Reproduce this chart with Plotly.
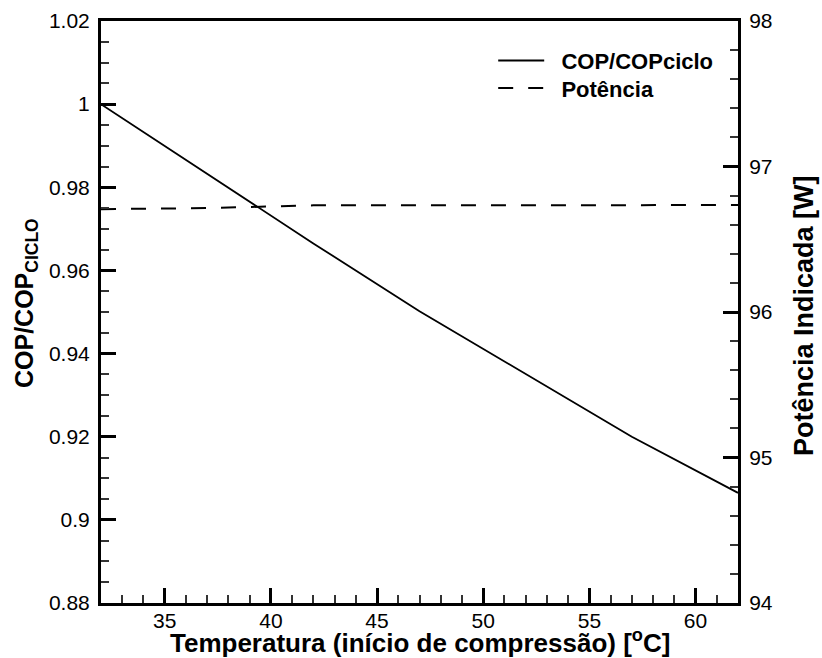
import plotly.graph_objects as go

# ---- data ----
temperatura = [32, 37, 42, 47, 52, 57, 62]
cop_ratio = [1.0000, 0.9832, 0.9665, 0.9502, 0.9350, 0.9200, 0.9065]
potencia = [96.707, 96.714, 96.733, 96.734, 96.735, 96.735, 96.735]

x_ticks = [35, 40, 45, 50, 55, 60]
y_ticks = [0.88, 0.90, 0.92, 0.94, 0.96, 0.98, 1.00, 1.02]
y_ticktext = ["0.88", "0.9", "0.92", "0.94", "0.96", "0.98", "1", "1.02"]
y2_ticks = [94, 95, 96, 97, 98]

x_title = "<b>Temperatura (início de compressão) [<sup>o</sup>C]</b>"
y_title = "<b>COP/COP<sub>CICLO</sub></b>"
y2_title = "<b>Potência Indicada [W]</b>"

FONT = "Arial, Liberation Sans, Helvetica, sans-serif"

fig = go.Figure()
fig.add_trace(go.Scatter(
    x=temperatura, y=cop_ratio, mode="lines",
    name="\u00a0\u00a0<b>COP/COPciclo</b>",
    line=dict(color="black", width=1.8),
    legend="legend",
))
fig.add_trace(go.Scatter(
    x=temperatura, y=potencia, mode="lines", yaxis="y2",
    name="\u00a0\u00a0<b>Potência</b>",
    line=dict(color="black", width=2, dash="15px,15px"),
    legend="legend2",
))

axis_common = dict(
    showgrid=False, zeroline=False, showline=True, linecolor="black",
    linewidth=3, ticks="inside", ticklen=15, tickwidth=3, tickcolor="black",
    tickfont=dict(family=FONT, size=21, color="black"),
    automargin=False,
)

legend_common = dict(
    x=0.6157, xanchor="left", yanchor="middle",
    bgcolor="rgba(0,0,0,0)", borderwidth=0,
    font=dict(family=FONT, size=22, color="black"),
    itemwidth=46,
)

fig.update_layout(
    width=822, height=658,
    margin=dict(l=101, r=84, t=21, b=55),
    paper_bgcolor="white", plot_bgcolor="white",
    font=dict(family=FONT, color="black"),
    showlegend=True,
    legend=dict(**legend_common, y=0.9318),
    legend2=dict(**legend_common, y=0.8844),
    xaxis=dict(
        **axis_common,
        range=[32, 62], tickmode="array", tickvals=x_ticks,
        mirror=True,
        minor=dict(dtick=1, tick0=0, ticks="inside", ticklen=8, tickwidth=1.5, tickcolor="#333"),
        ticklabelstandoff=-3,
    ),
    yaxis=dict(
        **axis_common,
        range=[0.88, 1.02], tickmode="array", tickvals=y_ticks, ticktext=y_ticktext,
        minor=dict(dtick=0.005, tick0=0.88, ticks="inside", ticklen=8, tickwidth=1.5, tickcolor="#333"),
        ticklabelstandoff=4,
    ),
    yaxis2=dict(
        **axis_common,
        overlaying="y", side="right",
        range=[94, 98], tickmode="array", tickvals=y2_ticks,
        minor=dict(dtick=0.2, tick0=94, ticks="inside", ticklen=8, tickwidth=1.5, tickcolor="#333"),
        ticklabelstandoff=4,
    ),
    annotations=[
        dict(text=x_title, xref="paper", yref="paper", x=0.5, y=0,
             xanchor="center", yanchor="bottom", yshift=-57, showarrow=False,
             font=dict(family=FONT, size=26, color="black")),
        dict(text=y_title, xref="paper", yref="paper", x=0, y=0.5,
             xanchor="center", yanchor="middle", xshift=-75, yshift=9,
             textangle=-90, showarrow=False,
             font=dict(family=FONT, size=25, color="black")),
        dict(text=y2_title, xref="paper", yref="paper", x=1, y=0.5,
             xanchor="center", yanchor="middle", xshift=66, yshift=-4,
             textangle=-90, showarrow=False,
             font=dict(family=FONT, size=27, color="black")),
    ],
)

fig.write_html(
    "out.html",
    config={"displayModeBar": False},
    post_script="document.body.style.margin='0px';document.body.style.padding='0px';",
)
